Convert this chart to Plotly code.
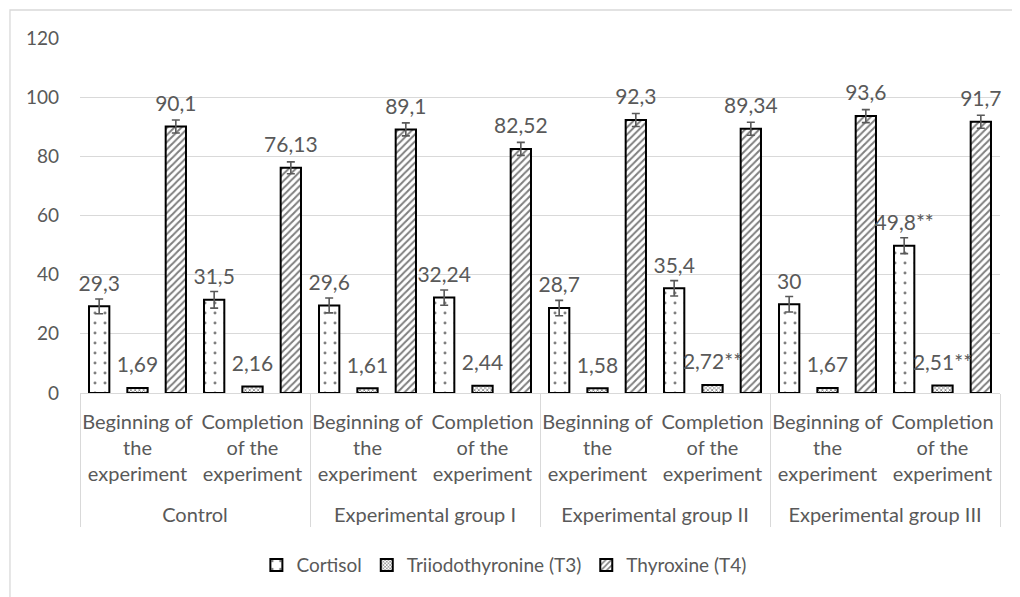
import plotly.graph_objects as go

group_names = ["Control", "Experimental group I", "Experimental group II", "Experimental group III"]
# leading blank line reproduces the extra gap above the group labels
groups = [("<br>" + g) for g in group_names for _ in range(2)]
stages = ["Beginning of<br>the<br>experiment", "Completion<br>of the<br>experiment"] * 4

cortisol = [29.3, 31.5, 29.6, 32.24, 28.7, 35.4, 30, 49.8]
t3 = [1.69, 2.16, 1.61, 2.44, 1.58, 2.72, 1.67, 2.51]
t4 = [90.1, 76.13, 89.1, 82.52, 92.3, 89.34, 93.6, 91.7]

cortisol_err = [2.5, 2.8, 2.5, 2.6, 2.6, 2.6, 2.6, 2.7]
t4_err = [2.2, 2.0, 2.2, 2.2, 2.2, 2.2, 2.2, 2.2]

cortisol_lbl = ["29,3", "31,5", "29,6", "32,24", "28,7", "35,4", "30", "49,8**"]
t3_lbl = ["1,69", "2,16", "1,61", "2,44", "1,58", "2,72**", "1,67", "2,51**"]
t4_lbl = ["90,1", "76,13", "89,1", "82,52", "92,3", "89,34", "93,6", "91,7"]

series = ["Cortisol", "Triiodothyronine (T3)", "Thyroxine (T4)"]

GRAY = "#595959"
FONT = "Lato"

x = [groups, stages]

fig = go.Figure()

patterns = [
    dict(shape=".", fgcolor="black", bgcolor="white", size=10, solidity=0.07),
    dict(shape="x", fgcolor="black", bgcolor="white", size=3, solidity=0.45),
    dict(shape="/", fgcolor="black", bgcolor="white", size=5, solidity=0.4),
]
vals = [cortisol, t3, t4]
errs = [cortisol_err, None, t4_err]
lbls = [cortisol_lbl, t3_lbl, t4_lbl]

for i in range(3):
    eb = None
    if errs[i] is not None:
        eb = dict(type="data", array=errs[i], visible=True, color=GRAY,
                  thickness=1.6, width=4)
    fig.add_trace(go.Bar(
        x=x, y=vals[i], name=series[i], offsetgroup=str(i),
        marker=dict(color="white", line=dict(color="black", width=2),
                    pattern=patterns[i]),
        error_y=eb,
    ))

for i in range(3):
    fig.add_trace(go.Scatter(
        x=x, y=vals[i], mode="markers+text", text=lbls[i],
        textposition="top center", offsetgroup=str(i),
        marker=dict(size=15, opacity=0), showlegend=False, hoverinfo="skip",
        textfont=dict(family=FONT, size=21, color=GRAY), cliponaxis=False,
    ))

fig.update_layout(
    width=1012, height=589,
    margin=dict(l=72, r=20, t=30, b=204),
    paper_bgcolor="white", plot_bgcolor="white",
    barmode="group", bargap=0, bargroupgap=0.47,
    scattermode="group", scattergap=0,
    font=dict(family=FONT, size=20, color=GRAY),
    showlegend=True,
    legend=dict(orientation="h", xref="container", yref="container",
                x=0.49, xanchor="center", y=0.054, yanchor="middle",
                font=dict(family=FONT, size=19, color=GRAY),
                itemwidth=30, traceorder="normal"),
)

fig.update_yaxes(range=[0, 120], dtick=20, showgrid=True, gridcolor="#d9d9d9",
                 gridwidth=1.3, zeroline=False, showline=False, ticks="",
                 automargin=False, ticklabelstandoff=20,
                 tickfont=dict(family=FONT, size=19, color=GRAY))
fig.update_xaxes(type="multicategory", showline=True, linecolor="#d9d9d9",
                 linewidth=1.3, showdividers=True, dividercolor="#d9d9d9",
                 dividerwidth=1.3, ticks="", mirror=False, tickangle=0,
                 automargin=False, ticklabelstandoff=11,
                 tickfont=dict(family=FONT, size=20, color=GRAY))

# outer chart border (left & top visible)
fig.add_shape(type="rect", xref="paper", yref="paper",
              x0=-0.0761, x1=1.04, y0=-0.62, y1=1.0789,
              line=dict(color="#d9d9d9", width=1.3), fillcolor="rgba(0,0,0,0)",
              layer="below")

fig.write_html("out.html")
